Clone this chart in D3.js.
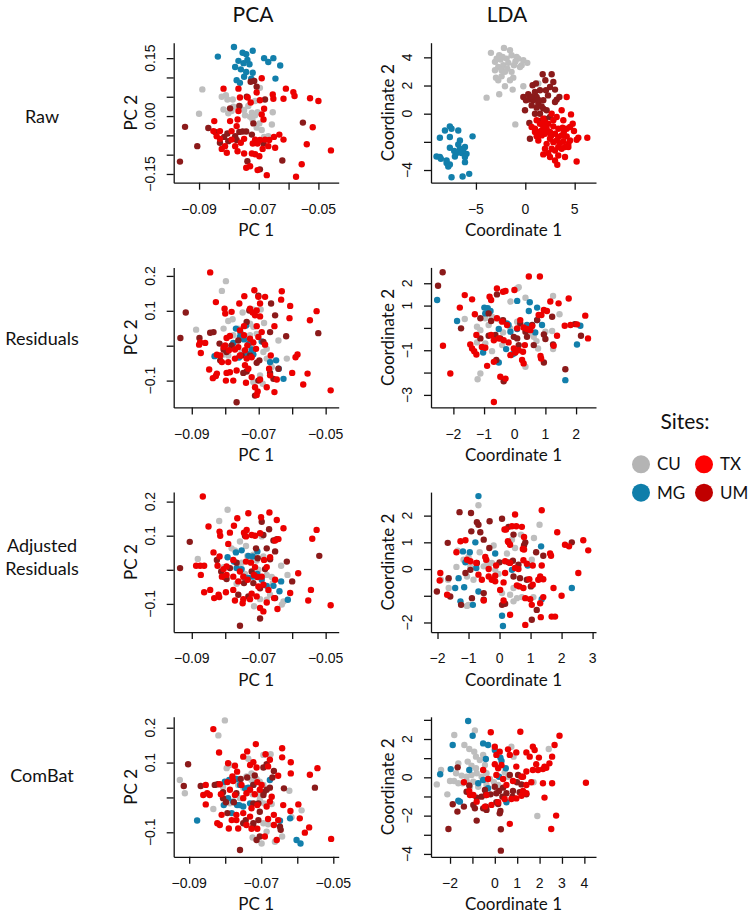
<!DOCTYPE html>
<html><head><meta charset="utf-8">
<script src="https://cdn.jsdelivr.net/npm/d3@7"></script>
<style>body{margin:0;background:#fff}</style>
</head><body><svg id="c" width="748" height="913"></svg>
<script>
// ---------- DATA ----------
const rawPcaCU=[[-0.0889,0.069],[-0.0900,0.006],[-0.0824,0.050],[-0.0810,0.054],[-0.0805,0.043],[-0.0818,0.017],[-0.0802,0.007],[-0.0791,0.013],[-0.0785,0.024],[-0.0763,0.024],[-0.0749,0.016],[-0.0735,0.026],[-0.0723,0.009],[-0.0712,0.002],[-0.0704,0.010],[-0.0696,0.073],[-0.0712,0.039],[-0.0729,-0.002],[-0.0698,-0.019],[-0.0707,-0.030],[-0.0690,-0.036],[-0.0656,-0.022],[-0.0653,0.010],[-0.0668,-0.052],[-0.0682,-0.054],[-0.0787,0.043],[-0.0746,0.002],[-0.0721,-0.009]];
const rawPcaMG=[[-0.0783,0.179],[-0.0837,0.154],[-0.0754,0.164],[-0.0742,0.160],[-0.0720,0.169],[-0.0738,0.145],[-0.0751,0.137],[-0.0768,0.143],[-0.0779,0.127],[-0.0760,0.121],[-0.0731,0.134],[-0.0742,0.114],[-0.0720,0.112],[-0.0682,0.150],[-0.0668,0.140],[-0.0651,0.150],[-0.0628,0.131],[-0.0644,0.097],[-0.0774,0.093],[-0.0763,0.086],[-0.0749,0.102],[-0.0725,0.097]];
const rawPcaUM=[[-0.0964,-0.118],[-0.0947,-0.028],[-0.0906,-0.078],[-0.0869,-0.031],[-0.0846,-0.041],[-0.0830,-0.069],[-0.0816,-0.054],[-0.0805,-0.045],[-0.0779,-0.052],[-0.0765,-0.041],[-0.0754,-0.040],[-0.0742,-0.040],[-0.0723,-0.048],[-0.0727,0.089],[-0.0715,0.091],[-0.0679,0.043],[-0.0796,0.020],[-0.0765,0.026],[-0.0740,0.050],[-0.0707,0.076],[-0.0684,-0.071],[-0.0696,-0.138],[-0.0738,-0.117],[-0.0621,-0.115],[-0.0552,-0.017],[-0.0774,-0.062],[-0.0802,-0.065],[-0.0718,-0.019]];
const rawPcaTX=[[-0.0818,0.071],[-0.0768,0.071],[-0.0737,0.048],[-0.0690,0.098],[-0.0609,0.071],[-0.0584,0.062],[-0.0580,0.052],[-0.0617,0.045],[-0.0653,0.056],[-0.0651,0.045],[-0.0528,0.046],[-0.0500,0.039],[-0.0763,0.048],[-0.0707,0.061],[-0.0696,0.041],[-0.0682,0.019],[-0.0690,0.004],[-0.0768,0.013],[-0.0771,-0.009],[-0.0796,-0.013],[-0.0849,-0.013],[-0.0852,-0.039],[-0.0841,-0.052],[-0.0830,-0.039],[-0.0824,-0.085],[-0.0813,-0.078],[-0.0807,-0.095],[-0.0791,-0.061],[-0.0779,-0.078],[-0.0771,-0.091],[-0.0760,-0.069],[-0.0749,-0.097],[-0.0712,-0.061],[-0.0704,-0.071],[-0.0696,-0.062],[-0.0679,-0.061],[-0.0665,-0.062],[-0.0649,-0.054],[-0.0631,-0.048],[-0.0617,-0.061],[-0.0712,-0.099],[-0.0698,-0.104],[-0.0687,-0.085],[-0.0668,-0.078],[-0.0742,-0.134],[-0.0729,-0.130],[-0.0723,-0.097],[-0.0704,-0.140],[-0.0673,-0.153],[-0.0575,-0.157],[-0.0556,-0.125],[-0.0539,-0.073],[-0.0519,-0.029],[-0.0458,-0.089],[-0.0830,-0.059],[-0.0791,-0.039],[-0.0774,-0.026],[-0.0749,-0.059],[-0.0720,-0.071],[-0.0645,-0.082],[-0.0727,0.035],[-0.0684,-0.009]];

const rawLdaCU=[[-3.48,4.32],[-2.16,4.67],[-1.55,4.51],[-2.64,4.15],[-3.07,3.68],[-2.50,3.84],[-1.89,3.91],[-1.39,4.15],[-0.88,4.03],[-0.20,3.80],[0.20,3.61],[-0.37,3.44],[-0.71,3.91],[-2.23,3.44],[-2.74,3.32],[-3.07,3.08],[-2.40,3.08],[-1.82,3.20],[-1.39,2.97],[-1.22,2.56],[-1.55,2.37],[-2.74,2.37],[-2.97,2.56],[-2.40,2.66],[-2.06,1.95],[-2.64,1.38],[-1.28,1.71],[-0.20,1.95],[1.32,2.14],[-3.92,1.14],[-1.01,-0.76],[-2.06,2.97],[-1.72,3.61],[-1.15,3.44],[-0.54,3.32],[-2.30,4.03],[-1.0,3.7],[-2.9,3.9]];
const rawLdaMG=[[-8.65,-1.71],[-8.14,-1.19],[-7.64,-0.90],[-7.47,-1.07],[-6.79,-1.19],[-7.64,-1.66],[-5.34,-1.61],[-6.62,-1.90],[-6.79,-2.18],[-7.64,-2.42],[-6.62,-2.49],[-6.11,-2.37],[-6.96,-2.80],[-6.45,-2.80],[-5.95,-2.85],[-6.11,-3.08],[-8.99,-3.04],[-8.65,-3.08],[-8.55,-3.20],[-7.97,-3.51],[-7.80,-3.75],[-7.64,-3.61],[-6.11,-3.44],[-7.47,-4.51],[-6.35,-4.46],[-5.68,-4.27],[-7.97,-3.32],[-7.13,-3.04],[-6.3,-2.6],[-7.2,-2.65]];
const rawLdaUM=[[0.74,2.02],[1.76,2.80],[2.67,2.80],[2.03,2.37],[2.84,2.25],[2.50,1.90],[3.01,1.71],[3.18,1.00],[3.45,1.19],[2.09,1.66],[1.49,1.66],[0.98,1.54],[0.30,1.38],[-0.20,1.19],[0.41,1.00],[0.07,0.95],[0.81,0.95],[1.15,1.19],[1.32,0.71],[1.66,0.52],[1.82,0.36],[2.16,0.24],[1.15,0.43],[-0.03,0.24],[0.41,-0.66],[0.47,-1.78],[0.98,0],[2.50,-0.24],[1.49,0],[3.01,0.83],[1.82,0.95],[0.64,0.59],[1.99,-0.36],[1.49,-0.52],[1.08,2.14],[0.6,1.2],[1.3,1.0],[2.3,1.3]];
const rawLdaTX=[[4.19,1.19],[4.63,-0.05],[3.68,0.24],[3.18,-0.24],[2.67,0],[3.85,-0.47],[1.49,-0.71],[1.82,-0.90],[2.33,-0.71],[2.84,-0.90],[3.34,-1.07],[3.78,-1.00],[4.19,-1.07],[4.53,-0.95],[4.93,-1.23],[5.37,-1.71],[6.28,-1.71],[0.98,-1.07],[1.32,-1.30],[1.66,-1.54],[1.99,-1.42],[2.50,-1.30],[3.01,-1.42],[3.34,-1.66],[3.68,-1.54],[4.19,-1.61],[4.53,-1.90],[5.20,-1.85],[2.50,-1.78],[2.84,-2.02],[3.18,-1.90],[3.51,-2.09],[3.85,-1.95],[4.36,-2.14],[2.16,-2.14],[1.99,-2.49],[1.82,-2.89],[2.33,-2.80],[2.67,-2.49],[3.01,-2.61],[3.34,-2.37],[3.68,-2.49],[4.02,-2.37],[4.36,-2.37],[2.50,-3.08],[3.01,-3.32],[3.34,-2.97],[4.02,-3.08],[3.24,-3.63],[5.20,-3.39],[1.32,-1.90],[1.15,-1.61],[1.66,-1.19],[2.16,-1.07],[2.84,-0.47],[1.82,-0.36],[1.15,-0.47],[4.80,-0.71],[0.64,-0.95],[0.98,-1.30],[2.0,-0.6],[2.6,-1.6],[3.9,-1.3]];

const resPcaCU=[[-0.0798,0.185],[-0.0810,0.157],[-0.0887,0.046],[-0.0805,0.049],[-0.0791,0.071],[-0.0778,0.076],[-0.0748,0.095],[-0.0716,0.103],[-0.0694,0.104],[-0.0684,0.065],[-0.0716,0.054],[-0.0706,0.034],[-0.0726,0.030],[-0.0750,0.023],[-0.0776,0.030],[-0.0807,-0.026],[-0.0791,-0.028],[-0.0751,-0.018],[-0.0721,-0.009],[-0.0686,-0.018],[-0.0676,-0.009],[-0.0664,-0.047],[-0.0641,0.015],[-0.0616,-0.037],[-0.0696,-0.085],[-0.0688,-0.109],[-0.0716,-0.104],[-0.0676,-0.037],[-0.0661,-0.061],[-0.0726,0.063],[-0.0761,0.049]];
const resPcaMG=[[-0.0832,-0.030],[-0.0776,0.008],[-0.0781,-0.001],[-0.0768,0.049],[-0.0738,0.058],[-0.0754,0.036],[-0.0744,0.018],[-0.0729,0.006],[-0.0716,-0.025],[-0.0736,-0.023],[-0.0759,-0.034],[-0.0721,-0.011],[-0.0691,0.012],[-0.0666,-0.047],[-0.0648,-0.042],[-0.0640,-0.066],[-0.0626,-0.095],[-0.0756,0.025]];
const resPcaUM=[[-0.0918,0.095],[-0.0934,0.022],[-0.0877,0.022],[-0.0845,0.037],[-0.0835,0.039],[-0.0817,0.006],[-0.0805,-0.011],[-0.0796,-0.018],[-0.0815,-0.042],[-0.0781,0.001],[-0.0761,0.015],[-0.0736,0.068],[-0.0728,0.101],[-0.0701,0.143],[-0.0663,0.121],[-0.0651,0.087],[-0.0666,0.039],[-0.0618,0.027],[-0.0522,0.036],[-0.0686,0.011],[-0.0706,-0.049],[-0.0698,-0.042],[-0.0736,-0.074],[-0.0746,-0.078],[-0.0701,-0.100],[-0.0666,-0.078],[-0.0711,-0.143],[-0.0766,-0.162],[-0.0656,-0.095],[-0.0641,-0.066],[-0.0726,-0.028],[-0.0751,-0.028]];
const resPcaTX=[[-0.0845,0.210],[-0.0828,0.125],[-0.0802,0.106],[-0.0800,0.092],[-0.0781,0.097],[-0.0758,0.121],[-0.0743,0.142],[-0.0713,0.159],[-0.0701,0.140],[-0.0681,0.140],[-0.0696,0.121],[-0.0726,0.106],[-0.0718,0.095],[-0.0711,0.087],[-0.0706,0.101],[-0.0696,0.084],[-0.0631,0.156],[-0.0633,0.132],[-0.0606,0.114],[-0.0608,0.079],[-0.0547,0.073],[-0.0527,0.099],[-0.0653,0.056],[-0.0786,0.028],[-0.0796,0.022],[-0.0800,0.001],[-0.0805,-0.004],[-0.0789,-0.013],[-0.0756,0.044],[-0.0744,0.030],[-0.0726,0.020],[-0.0734,0.001],[-0.0741,-0.013],[-0.0761,-0.004],[-0.0771,-0.011],[-0.0716,0.009],[-0.0708,-0.009],[-0.0701,0.025],[-0.0691,0.039],[-0.0681,0.003],[-0.0664,-0.028],[-0.0875,0.009],[-0.0860,0.008],[-0.0878,0.003],[-0.0873,-0.021],[-0.0825,-0.026],[-0.0810,-0.047],[-0.0791,-0.047],[-0.0756,-0.028],[-0.0736,-0.037],[-0.0721,-0.033],[-0.0741,-0.056],[-0.0731,-0.066],[-0.0766,-0.071],[-0.0796,-0.078],[-0.0825,-0.080],[-0.0828,-0.087],[-0.0837,-0.093],[-0.0848,-0.068],[-0.0798,-0.100],[-0.0776,-0.100],[-0.0738,-0.106],[-0.0721,-0.090],[-0.0696,-0.097],[-0.0711,-0.119],[-0.0703,-0.131],[-0.0706,-0.141],[-0.0676,-0.119],[-0.0666,-0.085],[-0.0646,-0.097],[-0.0653,-0.133],[-0.0669,-0.066],[-0.0584,-0.025],[-0.0590,-0.033],[-0.0600,-0.078],[-0.0554,-0.080],[-0.0567,-0.111],[-0.0485,-0.128],[-0.0771,-0.037],[-0.0706,0.056],[-0.0744,0.056],[-0.0786,-0.076],[-0.0815,-0.028]];

const resLdaCU=[[-1.63,0.40],[-1.23,0.05],[-1.12,-0.10],[-0.96,0.43],[-0.74,0.50],[-0.63,0.43],[-0.47,0.35],[-0.14,1.18],[0.08,1.77],[0.13,1.82],[0.35,1.35],[1.25,1.43],[1.46,0.61],[1.22,-0.14],[0.62,-0.40],[0.46,-0.25],[1.00,-0.17],[0.71,-0.59],[0.76,-0.92],[1.25,-0.95],[0.35,-1.74],[-0.74,-1.04],[-1.12,-2.04],[-1.21,-2.30],[-0.14,-0.02],[0.08,0.28],[-0.41,-0.77],[-0.96,-0.70],[-0.85,0.13],[-1.23,-0.65],[-0.38,-0.20]];
const resLdaMG=[[-2.53,1.25],[-1.88,0.31],[-0.99,0.91],[-0.88,0.88],[-0.96,0.65],[-0.79,0.76],[-0.52,-0.05],[-0.25,0.20],[0.08,1.21],[0.49,1.15],[0.73,0.91],[0.46,0.76],[0.73,0.35],[0.89,0.13],[0.67,-0.20],[0.08,-0.05],[-0.20,0.13],[-0.28,-0.95],[-0.09,-1.19],[-0.03,-1.15],[-1.03,-1.10],[-0.52,-1.55],[2.14,0.10],[2.03,-0.74],[1.65,-2.34],[-0.14,-0.17],[0.40,0.13]];
const resLdaUM=[[-2.35,2.49],[-2.50,1.89],[-1.75,-0.02],[-1.12,0.43],[-0.85,0.65],[-0.77,0.31],[-0.58,1.50],[-0.38,0.35],[-0.63,-0.32],[-0.47,-0.47],[-0.03,-0.40],[0.08,-0.47],[0.18,0.20],[0.35,-0.17],[0.57,0.13],[0.73,0.35],[0.95,-0.29],[1.22,0.50],[1.25,-0.74],[-0.60,-1.44],[-0.36,-2.39],[0.13,-0.77],[0.62,-0.77],[1.00,-0.50],[1.96,0.17],[2.16,-0.35],[1.65,-1.85],[-1.12,-0.47],[0.40,-0.40],[0.95,-1.55],[-0.85,-0.35]];
const resLdaTX=[[-2.34,-0.80],[-2.10,-2.04],[-1.79,0.91],[-1.63,1.47],[-1.39,1.28],[-1.30,0.61],[-1.25,-0.32],[-1.45,-0.74],[-1.39,-0.92],[-1.32,-1.04],[-1.25,-1.19],[-1.07,-0.85],[-0.96,-0.89],[-0.68,-0.55],[-0.58,1.77],[-0.38,1.62],[-0.30,1.65],[-0.01,1.70],[0.46,2.30],[0.82,2.30],[-0.82,1.40],[-0.77,1.25],[-0.58,0.43],[-0.41,0.28],[-0.25,0.13],[-0.77,-0.32],[-0.52,-0.47],[-0.36,-0.55],[-0.20,-0.65],[0.08,-0.02],[0.29,0.02],[0.40,-0.05],[0.57,0.08],[0.78,0.58],[0.95,0.80],[1.05,0.76],[1.16,1.18],[1.43,1.10],[1.76,1.32],[0.18,0.35],[0.27,-1.07],[0.33,-0.77],[0.13,-1.00],[0.29,-1.59],[-0.03,-0.92],[0.02,-1.10],[-0.14,-1.22],[-0.68,-1.52],[-0.90,-1.70],[-0.47,-2.19],[-0.30,-2.27],[0.24,-1.44],[0.84,-1.26],[0.86,-1.37],[1.27,-0.80],[1.38,-0.35],[1.63,0.10],[1.82,0.13],[2.03,0.16],[2.30,0.55],[2.39,-0.47],[-0.68,-3.32],[0.87,0.58],[0.51,-0.10]];

const adjPcaCU=[[-0.0793,0.176],[-0.0818,0.143],[-0.0882,0.032],[-0.0781,0.063],[-0.0771,0.057],[-0.0756,0.083],[-0.0738,0.070],[-0.0716,0.044],[-0.0691,0.098],[-0.0706,0.027],[-0.0726,0.029],[-0.0751,0.021],[-0.0761,0.010],[-0.0741,-0.012],[-0.0676,-0.015],[-0.0661,-0.021],[-0.0658,-0.039],[-0.0633,0.012],[-0.0614,-0.015],[-0.0666,-0.073],[-0.0696,-0.086],[-0.0676,-0.088],[-0.0714,-0.107],[-0.0631,-0.102],[-0.0626,-0.093],[-0.0734,0.041],[-0.0805,0.008],[-0.0766,-0.041],[-0.0686,0.039],[-0.0701,0]];
const adjPcaMG=[[-0.0793,0.037],[-0.0768,0.051],[-0.0751,0.057],[-0.0731,0.041],[-0.0718,0.039],[-0.0704,0.054],[-0.0774,0.024],[-0.0751,0.002],[-0.0744,-0.021],[-0.0731,-0.024],[-0.0716,-0.020],[-0.0704,-0.012],[-0.0691,-0.029],[-0.0676,-0.047],[-0.0656,-0.047],[-0.0633,-0.034],[-0.0638,-0.063],[-0.0613,-0.088],[-0.0766,0.005]];
const adjPcaUM=[[-0.0935,0.005],[-0.0906,0.082],[-0.0825,0.029],[-0.0812,-0.005],[-0.0803,-0.021],[-0.0786,0.005],[-0.0766,0.021],[-0.0741,0.100],[-0.0691,0.141],[-0.0669,0.119],[-0.0686,0.102],[-0.0676,0.063],[-0.0656,0.086],[-0.0646,0.090],[-0.0651,0.054],[-0.0666,0.031],[-0.0681,0.002],[-0.0616,0.024],[-0.0600,-0.034],[-0.0519,0.041],[-0.0708,0.063],[-0.0703,0.034],[-0.0696,-0.054],[-0.0651,-0.083],[-0.0696,-0.143],[-0.0756,-0.164],[-0.0761,-0.073],[-0.0731,-0.078],[-0.0796,-0.027],[-0.0744,-0.039],[-0.0721,-0.005],[-0.0716,-0.039]];
const adjPcaTX=[[-0.0867,0.215],[-0.0850,0.127],[-0.0817,0.112],[-0.0815,0.100],[-0.0786,0.109],[-0.0774,0.129],[-0.0764,0.151],[-0.0731,0.166],[-0.0693,0.154],[-0.0668,0.168],[-0.0646,0.146],[-0.0626,0.122],[-0.0641,0.090],[-0.0651,0.086],[-0.0711,0.100],[-0.0721,0.102],[-0.0736,0.117],[-0.0744,0.109],[-0.0738,0.098],[-0.0696,0.107],[-0.0791,0.076],[-0.0835,0.051],[-0.0817,0.039],[-0.0796,0.010],[-0.0805,0.002],[-0.0810,-0.020],[-0.0823,0.012],[-0.0887,0.012],[-0.0875,0.012],[-0.0863,0.012],[-0.0873,-0.015],[-0.0845,-0.059],[-0.0833,-0.083],[-0.0820,-0.073],[-0.0818,-0.080],[-0.0798,-0.066],[-0.0776,-0.059],[-0.0771,-0.090],[-0.0746,-0.086],[-0.0748,-0.098],[-0.0721,-0.070],[-0.0726,-0.086],[-0.0733,-0.029],[-0.0756,-0.005],[-0.0776,-0.020],[-0.0761,-0.034],[-0.0746,-0.020],[-0.0738,0.024],[-0.0723,0.021],[-0.0711,0.008],[-0.0714,-0.015],[-0.0691,-0.020],[-0.0684,0.029],[-0.0676,0.008],[-0.0666,0.037],[-0.0704,-0.021],[-0.0701,-0.049],[-0.0686,-0.044],[-0.0671,-0.059],[-0.0706,-0.078],[-0.0696,-0.112],[-0.0686,-0.122],[-0.0654,-0.083],[-0.0644,-0.115],[-0.0676,-0.096],[-0.0651,-0.029],[-0.0606,-0.068],[-0.0582,-0.010],[-0.0544,-0.059],[-0.0527,0.117],[-0.0540,0.091],[-0.0552,-0.090],[-0.0485,-0.104],[-0.0863,-0.066],[-0.0796,-0.015],[-0.0776,0.029]];

const adjLdaCU=[[-0.68,2.39],[-1.89,-0.40],[-1.66,-0.40],[-1.39,0.08],[-1.16,0.35],[-1.00,0.45],[-0.94,0.10],[-1.05,-0.28],[-0.84,-0.40],[-0.64,0.63],[-0.51,0.10],[-0.41,0.29],[-0.25,0.23],[-0.14,-0.03],[-0.03,-0.18],[-0.19,0.88],[0.24,0.58],[0.40,1.10],[0.50,0.79],[0.69,1.29],[1.11,1.16],[1.29,1.66],[0.45,-0.71],[0.34,-0.96],[0.08,-0.90],[0.56,-1.09],[0.45,-1.21],[0.72,-1.05],[1.09,-1.05],[1.29,-0.38],[-1.00,-1.34],[-1.05,-1.38],[-1.64,-0.71],[-0.35,0.10],[1.04,0.35],[-1.35,0.69]];
const adjLdaMG=[[-0.68,2.73],[-0.78,1.00],[-1.18,0.66],[-0.96,0.63],[-1.10,0.25],[-0.75,0.04],[-0.14,0.58],[0.40,-0.03],[0.91,0.13],[1.34,0.85],[2.33,-0.71],[1.36,-1.13],[0.08,-1.75],[0.11,-2.13],[-1.32,-0.34],[-1.43,-0.71],[-1.26,-1.21],[-0.86,-1.34],[-0.68,-0.84],[-1.14,-0.68]];
const adjLdaUM=[[-1.29,2.13],[-0.92,2.10],[-0.91,1.41],[-0.73,1.75],[-0.68,1.66],[-0.62,1.38],[-0.32,1.79],[-0.51,1.10],[-0.33,0.79],[0.08,1.88],[0.29,1.58],[0.45,1.29],[0.83,1.00],[0.79,0.89],[1.18,0.63],[1.41,0.50],[2.33,1.00],[-0.94,-0.03],[-0.73,0.23],[-1.10,-0.15],[-1.64,-0.34],[-2.02,-0.84],[-1.59,-1.03],[-1.24,-1.34],[-0.89,-1.09],[-0.51,-0.90],[-0.51,-1.15],[0.08,-1.34],[0.18,-1.30],[0.45,-0.28],[0.66,-0.34],[1.01,-0.65],[1.20,-1.53],[1.04,-1.90],[0.43,0.31],[0.29,0.25],[0,0.25],[0.88,-0.40],[-1.67,0.98],[0.61,0.16]];
const adjLdaTX=[[-1.91,-0.15],[-1.93,-0.43],[-1.69,-0.96],[-1.39,0.63],[-1.26,1.04],[-1.10,1.08],[-1.05,0.35],[-0.94,0.29],[-0.75,0.23],[-0.68,-0.21],[-0.57,-0.40],[-0.46,0.45],[-0.43,0.35],[-0.35,0],[-0.35,-0.28],[-0.25,-0.40],[-0.14,-0.25],[-0.14,-0.46],[-0.51,-1.18],[0.16,1.48],[0.21,1.48],[0.29,1.00],[0.34,0.91],[0.27,1.04],[0.40,1.60],[0.54,1.60],[0.72,1.58],[0.50,2.04],[0.79,0.73],[0.75,0.75],[0.79,1.20],[0.77,0.33],[0.88,0.20],[1.07,0.13],[0.18,0.29],[0.34,0.23],[0.50,0.04],[0.61,0],[0.56,-0.61],[0.64,-0.65],[0.77,-0.71],[0.96,-0.38],[1.07,-0.59],[1.25,-0.40],[1.41,-0.38],[1.36,0.13],[1.63,0.58],[1.66,0.50],[1.86,1.38],[2.11,0.91],[2.24,0.85],[2.54,-0.15],[2.70,1.08],[2.86,0.70],[2.00,-1.00],[1.74,-0.71],[1.31,-0.28],[1.41,-1.05],[1.68,-1.78],[1.79,-1.78],[0.83,-1.09],[0.99,-1.13],[0.83,-2.09],[0.34,-1.71],[0.13,-1.18],[0.02,-0.78],[-0.11,0.13],[0.18,-0.15],[0.13,-0.50],[1.33,-1.80],[1.31,-1.28],[1.04,-1.34],[1.36,2.20]];

const cbPcaCU=[[-0.0801,0.221],[-0.0819,0.178],[-0.0926,0.050],[-0.0912,0.012],[-0.0796,0.084],[-0.0787,0.093],[-0.0736,0.111],[-0.0694,0.122],[-0.0674,0.124],[-0.0741,0.060],[-0.0727,0.050],[-0.0713,0.053],[-0.0704,0.045],[-0.0694,0.036],[-0.0706,0.007],[-0.0693,-0.017],[-0.0671,-0.019],[-0.0622,0.019],[-0.0588,-0.037],[-0.0616,-0.057],[-0.0642,-0.112],[-0.0685,-0.098],[-0.0724,-0.115],[-0.0699,-0.132],[-0.0662,-0.127],[-0.0833,-0.033],[-0.0787,-0.017],[-0.0764,0.036],[-0.0750,0.028],[-0.0724,0.009],[-0.0681,-0.077],[-0.0694,-0.074],[-0.0806,0.031],[-0.0727,0.069],[-0.0759,-0.002],[-0.0704,-0.007]];
const cbPcaMG=[[-0.0878,-0.066],[-0.0801,0.045],[-0.0789,0.050],[-0.0769,0.053],[-0.0759,0.036],[-0.0745,0.026],[-0.0736,0.028],[-0.0722,0.036],[-0.0676,0.050],[-0.0804,-0.022],[-0.0792,-0.002],[-0.0778,-0.012],[-0.0767,-0.022],[-0.0761,-0.022],[-0.0750,-0.026],[-0.0782,-0.045],[-0.0648,-0.067],[-0.0620,-0.060],[-0.0602,-0.122],[-0.0591,-0.132],[-0.0731,-0.017]];
const cbPcaUM=[[-0.0915,0.033],[-0.0903,0.095],[-0.0868,0.033],[-0.0829,0.036],[-0.0821,0.038],[-0.0806,0.015],[-0.0798,-0.014],[-0.0794,-0.045],[-0.0776,-0.014],[-0.0769,0.012],[-0.0757,0.053],[-0.0739,0.057],[-0.0718,0.063],[-0.0722,0.036],[-0.0722,-0.017],[-0.0708,-0.017],[-0.0694,0.007],[-0.0693,0.015],[-0.0685,0.022],[-0.0676,0.028],[-0.0665,0.076],[-0.0694,0.086],[-0.0685,0.095],[-0.0669,0.057],[-0.0637,0.026],[-0.0551,0.028],[-0.0704,-0.041],[-0.0708,-0.065],[-0.0722,-0.074],[-0.0722,-0.084],[-0.0713,-0.122],[-0.0704,-0.112],[-0.0759,-0.151],[-0.0750,-0.074],[-0.0743,-0.065],[-0.0648,-0.084],[-0.0646,-0.093],[-0.0806,-0.002]];
const cbPcaTX=[[-0.0833,0.196],[-0.0817,0.129],[-0.0792,0.098],[-0.0773,0.091],[-0.0750,0.117],[-0.0739,0.132],[-0.0715,0.153],[-0.0688,0.124],[-0.0676,0.108],[-0.0642,0.141],[-0.0642,0.115],[-0.0618,0.101],[-0.0618,0.069],[-0.0565,0.065],[-0.0544,0.084],[-0.0653,0.062],[-0.0681,0.089],[-0.0713,0.086],[-0.0722,0.101],[-0.0731,0.093],[-0.0780,0.060],[-0.0767,0.074],[-0.0778,0.047],[-0.0794,0.044],[-0.0815,0.038],[-0.0854,0.036],[-0.0861,0.007],[-0.0850,0.012],[-0.0843,0.007],[-0.0854,-0.020],[-0.0812,0.009],[-0.0787,0.022],[-0.0773,0.007],[-0.0750,-0.002],[-0.0741,0.012],[-0.0731,0.022],[-0.0755,0.036],[-0.0711,0.044],[-0.0699,0.036],[-0.0718,0.009],[-0.0704,0.022],[-0.0671,0.002],[-0.0676,-0.012],[-0.0685,-0.026],[-0.0711,-0.022],[-0.0727,-0.031],[-0.0750,-0.045],[-0.0769,-0.050],[-0.0782,-0.065],[-0.0810,-0.050],[-0.0822,-0.074],[-0.0815,-0.079],[-0.0790,-0.089],[-0.0764,-0.089],[-0.0741,-0.079],[-0.0727,-0.090],[-0.0711,-0.090],[-0.0690,-0.112],[-0.0657,-0.122],[-0.0681,-0.062],[-0.0665,-0.050],[-0.0665,-0.079],[-0.0653,-0.065],[-0.0639,-0.022],[-0.0619,-0.039],[-0.0597,-0.020],[-0.0593,-0.060],[-0.0579,-0.101],[-0.0567,-0.086],[-0.0506,-0.119],[-0.0769,-0.065],[-0.0731,-0.055]];

const cbLdaCU=[[-0.89,2.45],[-1.81,2.21],[-1.36,1.69],[-1.14,1.48],[-0.92,1.34],[-0.84,1.08],[-0.52,1.17],[-0.67,0.90],[-0.44,0.64],[-1.21,0.82],[-1.04,0.61],[-0.84,0.47],[-1.63,0.73],[-1.73,0.21],[-1.48,0.09],[-1.26,0.03],[-1.04,0.12],[-0.81,0.21],[-0.59,0.03],[-0.37,0.21],[-0.22,-0.09],[-0.04,-0.26],[0.15,-0.40],[-0.37,-0.40],[-0.74,-0.49],[-0.96,-0.23],[-2.00,-0.19],[-1.82,-0.19],[-1.63,-0.31],[-1.44,-0.31],[-1.26,-0.19],[-2.59,-0.37],[-2.12,-0.89],[-2.40,0.38],[0.74,1.60],[0.84,1.08],[2.41,1.48],[1.90,-2.02],[1.73,-0.26],[0.59,0.03],[0.44,0.26],[-1.11,-0.49]];
const cbLdaMG=[[-1.19,2.94],[-0.99,2.17],[-1.88,1.69],[-0.52,1.77],[-0.30,1.69],[-0.40,0.96],[0,1.43],[0.25,1.03],[0.30,0.85],[0.49,0.47],[-1.97,0.43],[-2.44,0.16],[-1.14,0.38],[0.19,0.03],[-0.30,-0.57],[-0.74,-0.31],[-1.56,-1.27],[-1.63,-1.22],[0.52,-1.30],[-0.52,-0.14]];
const cbLdaUM=[[-1.66,0.52],[-1.14,-0.43],[-1.26,-0.75],[-0.44,-0.66],[0,-0.49],[0.67,0.12],[1.04,0.12],[0.99,-0.26],[1.19,-0.37],[0.81,-0.71],[0.52,-0.83],[0.34,-1.01],[0.19,-0.71],[0.37,-0.54],[0.07,-0.83],[-0.19,-0.89],[-0.40,-0.92],[-0.59,-1.01],[-0.81,-1.06],[-0.96,-1.44],[-0.89,-1.62],[-0.52,-1.62],[-0.37,-1.70],[-0.40,-1.53],[0.07,-1.30],[0.25,-1.76],[0.22,-1.88],[0.15,-1.39],[0.79,-1.01],[1.11,-0.78],[-1.88,-1.41],[-2.07,-2.70],[-0.81,-2.26],[0.27,-2.71],[0.27,-3.83],[1.41,-0.89],[-1.67,-1.79],[-1.38,-1.53]];
const cbLdaTX=[[-0.18,2.35],[0,1.60],[0.07,1.17],[0.22,1.34],[0.30,0.64],[0.15,0.47],[0,0.68],[0.59,1.46],[0.67,1.17],[0.96,1.30],[1.14,2.38],[1.41,1.30],[1.70,1.60],[1.78,1.43],[1.56,1.08],[1.97,1.03],[1.85,0.68],[0.96,0.56],[1.19,0.03],[1.26,0.03],[1.41,0.30],[1.70,0.38],[1.93,0.38],[2.15,0.43],[2.30,0.50],[2.44,0.73],[2.56,1.08],[2.89,2.17],[2.67,1.69],[2.22,0.56],[2.15,-0.31],[1.63,-0.26],[1.41,-0.40],[1.26,-0.71],[1.41,-0.83],[1.19,-0.96],[0.96,-1.10],[0.74,-1.13],[0.44,-1.13],[0.15,-1.30],[-0.15,-1.44],[-0.44,-1.53],[-0.81,-1.27],[-0.96,-0.92],[-1.14,-0.71],[-1.38,-0.26],[-0.52,0.38],[-0.30,-0.09],[0.07,0.12],[0.37,-0.09],[0.52,-0.40],[0.81,-0.19],[-0.37,-0.92],[2.22,-1.06],[2.56,-0.31],[2.74,-2.00],[2.52,-2.70],[0.67,-2.43],[4.07,-0.28],[-1.11,-0.92]];

// tick values and labels
const pcaXTicks=[-0.09,-0.08,-0.07,-0.06,-0.05];
const pcaXLabels=["\u22120.09","","\u22120.07","","\u22120.05"];
const rawPcaYTicks=[-0.15,-0.10,-0.05,0,0.05,0.10,0.15];
const rawPcaYLabels=["\u22120.15","","","0.00","","","0.15"];
const pcaYTicks=[-0.1,0,0.1,0.2];
const pcaYLabels=["\u22120.1","","0.1","0.2"];
const rawLdaXTicks=[-5,0,5], rawLdaXLabels=["\u22125","0","5"];
const rawLdaYTicks=[-4,-2,0,2,4], rawLdaYLabels=["\u22124","","0","2","4"];
const resLdaXTicks=[-2,-1,0,1,2], resLdaXLabels=["\u22122","\u22121","0","1","2"];
const resLdaYTicks=[-3,-2,-1,0,1,2], resLdaYLabels=["\u22123","","\u22121","","1","2"];
const adjLdaXTicks=[-2,-1,0,1,2,3], adjLdaXLabels=["\u22122","\u22121","0","1","2","3"];
const adjLdaYTicks=[-2,-1,0,1,2], adjLdaYLabels=["\u22122","","0","1","2"];
const cbLdaXTicks=[-2,-1,0,1,2,3,4], cbLdaXLabels=["\u22122","","0","1","2","3","4"];
const cbLdaYTicks=[-4,-3,-2,-1,0,1,2,3], cbLdaYLabels=["\u22124","","\u22122","","0","","2",""];

const sites=["CU","MG","TX","UM"];
const drawOrder=["CU","MG","UM","TX"];
const rowNames=[["Raw"],["Residuals"],["Adjusted","Residuals"],["ComBat"]];
const colNames=["PCA","LDA"];

// ---------- STYLE / LAYOUT ----------
const pointColor={CU:"#bebebe",MG:"#127fab",TX:"#ec0000",UM:"#8b1a1a"};
const legendColor={CU:"#b4b4b4",MG:"#0f7eaa",TX:"#ff0000",UM:"#c00000"};
const W=165,H=140;
const colLeft=[173.7,431];
const rowTop=r=>42.7+224.7*r;

const panels=[
 {r:0,c:0,d:{CU:rawPcaCU,MG:rawPcaMG,TX:rawPcaTX,UM:rawPcaUM},xd:[-0.0985,-0.0432],yd:[-0.1726,0.19],xt:pcaXTicks,xl:pcaXLabels,yt:rawPcaYTicks,yl:rawPcaYLabels},
 {r:0,c:1,d:{CU:rawLdaCU,MG:rawLdaMG,TX:rawLdaTX,UM:rawLdaUM},xd:[-9.55,7.16],yd:[-4.90,5.04],xt:rawLdaXTicks,xl:rawLdaXLabels,yt:rawLdaYTicks,yl:rawLdaYLabels},
 {r:1,c:0,d:{CU:resPcaCU,MG:resPcaMG,TX:resPcaTX,UM:resPcaUM},xd:[-0.0954,-0.0461],yd:[-0.1768,0.2244],xt:pcaXTicks,xl:pcaXLabels,yt:pcaYTicks,yl:pcaYLabels},
 {r:1,c:1,d:{CU:resLdaCU,MG:resLdaMG,TX:resLdaTX,UM:resLdaUM},xd:[-2.73,2.65],yd:[-3.56,2.71],xt:resLdaXTicks,xl:resLdaXLabels,yt:resLdaYTicks,yl:resLdaYLabels},
 {r:2,c:0,d:{CU:adjPcaCU,MG:adjPcaMG,TX:adjPcaTX,UM:adjPcaUM},xd:[-0.0954,-0.0461],yd:[-0.1827,0.2279],xt:pcaXTicks,xl:pcaXLabels,yt:pcaYTicks,yl:pcaYLabels},
 {r:2,c:1,d:{CU:adjLdaCU,MG:adjLdaMG,TX:adjLdaTX,UM:adjLdaUM},xd:[-2.21,3.11],yd:[-2.36,2.88],xt:adjLdaXTicks,xl:adjLdaXLabels,yt:adjLdaYTicks,yl:adjLdaYLabels},
 {r:3,c:0,d:{CU:cbPcaCU,MG:cbPcaMG,TX:cbPcaTX,UM:cbPcaUM},xd:[-0.0943,-0.0485],yd:[-0.1703,0.2313],xt:pcaXTicks,xl:pcaXLabels,yt:pcaYTicks,yl:pcaYLabels},
 {r:3,c:1,d:{CU:cbLdaCU,MG:cbLdaMG,TX:cbLdaTX,UM:cbLdaUM},xd:[-2.85,4.52],yd:[-4.15,3.16],xt:cbLdaXTicks,xl:cbLdaXLabels,yt:cbLdaYTicks,yl:cbLdaYLabels}
];

const svg=d3.select("#c");
svg.append("rect").attr("width",748).attr("height",913).attr("fill","#fff");
const tickFont="'Liberation Sans', Arial, sans-serif";
const titleFont="Lato, 'Open Sans', sans-serif";

panels.forEach(p=>{
  const g=svg.append("g").attr("transform",`translate(${colLeft[p.c]},${rowTop(p.r)})`);
  const x=d3.scaleLinear().domain(p.xd).range([0,W]);
  const y=d3.scaleLinear().domain(p.yd).range([H,0]);
  const ax=g.append("g").attr("transform",`translate(0,${H})`)
    .call(d3.axisBottom(x).tickValues(p.xt).tickSize(7).tickSizeOuter(0).tickFormat(""));
  const ay=g.append("g")
    .call(d3.axisLeft(y).tickValues(p.yt).tickSize(7).tickSizeOuter(0).tickFormat(""));
  [ax,ay].forEach(a=>{a.selectAll("path,line").attr("stroke","#111").attr("stroke-width",1.3);a.selectAll("text").remove();});
  p.xt.forEach((t,i)=>{ if(!p.xl[i]) return;
    g.append("text").attr("x",x(t)).attr("y",H+26.5).attr("dy","0.35em").attr("text-anchor","middle")
     .attr("font-family",tickFont).attr("font-size",14).attr("fill","#111").text(p.xl[i]);});
  p.yt.forEach((t,i)=>{ if(!p.yl[i]) return;
    g.append("text").attr("transform",`translate(-24,${y(t)}) rotate(-90)`).attr("dy","0.35em").attr("text-anchor","middle")
     .attr("font-family",tickFont).attr("font-size",14).attr("fill","#111").text(p.yl[i]);});
  g.append("text").attr("x",W/2).attr("y",H+47.5).attr("dy","0.35em").attr("text-anchor","middle")
   .attr("font-family",titleFont).attr("font-size",17).attr("fill","#111").text(p.c===0?"PC 1":"Coordinate 1");
  g.append("text").attr("transform",`translate(-43,${H/2}) rotate(-90)`).attr("dy","0.35em").attr("text-anchor","middle")
   .attr("font-family",titleFont).attr("font-size",17).attr("fill","#111").text(p.c===0?"PC 2":"Coordinate 2");
  drawOrder.forEach(s=>{
    g.append("g").selectAll("circle").data(p.d[s]).join("circle")
     .attr("cx",d=>x(d[0])).attr("cy",d=>y(d[1])).attr("r",3.2).attr("fill",pointColor[s]);
  });
});

// column headers
const colX=[253,507];
colNames.forEach((n,i)=>svg.append("text").attr("x",colX[i]).attr("y",21.5)
  .attr("text-anchor","middle").attr("font-family",titleFont).attr("font-size",21).attr("fill","#111").text(n));

// row labels
const rowY=[117,339,557,776];
rowNames.forEach((lines,r)=>{
  const t=svg.append("text").attr("text-anchor","middle").attr("font-family",titleFont).attr("font-size",18).attr("fill","#111");
  lines.forEach((ln,j)=>t.append("tspan").attr("x",42).attr("y",rowY[r]+(j-(lines.length-1)/2)*23).attr("dy","0.35em").text(ln));
});

// legend
svg.append("text").attr("x",685).attr("y",422).attr("dy","0.35em").attr("text-anchor","middle")
  .attr("font-family",titleFont).attr("font-size",21).attr("fill","#111").text("Sites:");
const legPos={CU:[641,464.3],TX:[704,464.3],MG:[641,492.7],UM:[704,492.7]};
sites.forEach(s=>{
  const [cx,cy]=legPos[s];
  svg.append("circle").attr("cx",cx).attr("cy",cy).attr("r",9).attr("fill",legendColor[s]);
  svg.append("text").attr("x",cx+16).attr("y",cy).attr("dy","0.35em").attr("font-family",titleFont)
    .attr("font-size",17).attr("fill","#111").text(s);
});
</script></body></html>
